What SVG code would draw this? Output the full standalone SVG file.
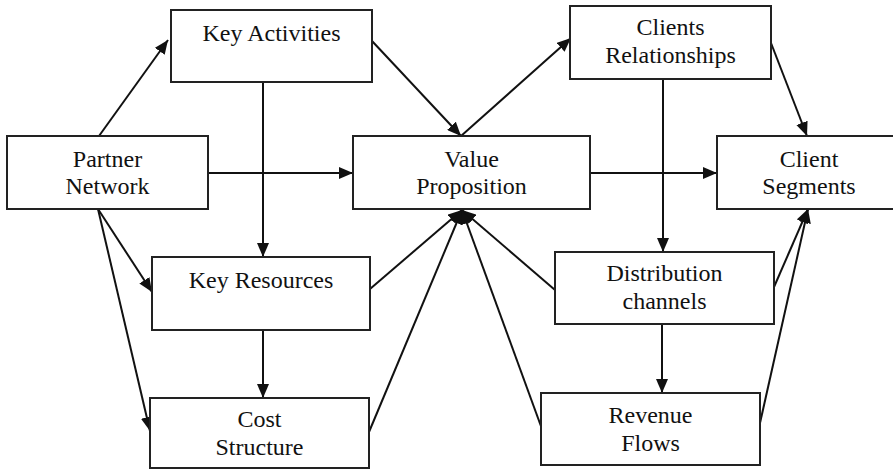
<svg xmlns="http://www.w3.org/2000/svg" width="893" height="470" viewBox="0 0 893 470">
<style>
rect.n{fill:#fff;stroke:#222;stroke-width:2}
.t{font-family:'Liberation Serif','Times New Roman','DejaVu Serif',serif;font-size:24px;fill:#111;text-anchor:middle}
.c line{stroke:#111;stroke-width:2}
</style>
<defs>
<marker id="ah" markerUnits="userSpaceOnUse" markerWidth="14" markerHeight="12" viewBox="0 0 14 12" refX="14" refY="6" orient="auto">
<path d="M0,0 L14,6 L0,12 z" fill="#111"/>
</marker>
</defs>
<rect width="893" height="470" fill="#fff"/>
<g id="connectors" class="c">
<line x1="99" y1="136" x2="168" y2="40" marker-end="url(#ah)"/>
<line x1="208" y1="173" x2="353" y2="173" marker-end="url(#ah)"/>
<line x1="263" y1="82" x2="263" y2="257" marker-end="url(#ah)"/>
<line x1="372" y1="41" x2="461" y2="136" marker-end="url(#ah)"/>
<line x1="461" y1="136" x2="571" y2="38" marker-end="url(#ah)"/>
<line x1="590" y1="173" x2="717" y2="173" marker-end="url(#ah)"/>
<line x1="771" y1="43" x2="807" y2="136" marker-end="url(#ah)"/>
<line x1="663" y1="79" x2="663" y2="252" marker-end="url(#ah)"/>
<line x1="98" y1="209" x2="152" y2="292" marker-end="url(#ah)"/>
<line x1="98" y1="209" x2="150" y2="431" marker-end="url(#ah)"/>
<line x1="263" y1="330" x2="263" y2="398" marker-end="url(#ah)"/>
<line x1="370" y1="289" x2="462" y2="210" marker-end="url(#ah)"/>
<line x1="369" y1="432" x2="462" y2="210" marker-end="url(#ah)"/>
<line x1="555" y1="290" x2="462" y2="210" marker-end="url(#ah)"/>
<line x1="542" y1="429" x2="462" y2="210" marker-end="url(#ah)"/>
<line x1="662" y1="324" x2="662" y2="393" marker-end="url(#ah)"/>
<line x1="774" y1="287" x2="808" y2="209" marker-end="url(#ah)"/>
<line x1="760" y1="423" x2="808" y2="209" marker-end="url(#ah)"/>
</g>
<g id="key-activities"><rect class="n" x="171" y="10" width="201" height="72"/><text class="t" font-family="Liberation Serif" x="271.5" y="41">Key Activities</text></g>
<g id="partner-network"><rect class="n" x="7" y="136" width="201" height="73"/><text class="t" x="107.5" y="167">Partner</text><text class="t" x="107.5" y="194">Network</text></g>
<g id="value-proposition"><rect class="n" x="353" y="136" width="237" height="73"/><text class="t" x="471.5" y="167">Value</text><text class="t" x="471.5" y="194">Proposition</text></g>
<g id="clients-relationships"><rect class="n" x="570" y="6" width="201" height="73"/><text class="t" x="670.5" y="35">Clients</text><text class="t" x="670.5" y="63">Relationships</text></g>
<g id="client-segments"><rect class="n" x="717" y="136" width="200" height="73"/><text class="t" x="809" y="167">Client</text><text class="t" x="809" y="194">Segments</text></g>
<g id="key-resources"><rect class="n" x="152" y="257" width="218" height="73"/><text class="t" x="261" y="288">Key Resources</text></g>
<g id="cost-structure"><rect class="n" x="150" y="398" width="219" height="70"/><text class="t" x="259.5" y="427">Cost</text><text class="t" x="259.5" y="455">Structure</text></g>
<g id="distribution-channels"><rect class="n" x="555" y="252" width="219" height="72"/><text class="t" x="664.5" y="281">Distribution</text><text class="t" x="664.5" y="309">channels</text></g>
<g id="revenue-flows"><rect class="n" x="541" y="393" width="219" height="72"/><text class="t" x="650.5" y="423">Revenue</text><text class="t" x="650.5" y="451">Flows</text></g>
</svg>
